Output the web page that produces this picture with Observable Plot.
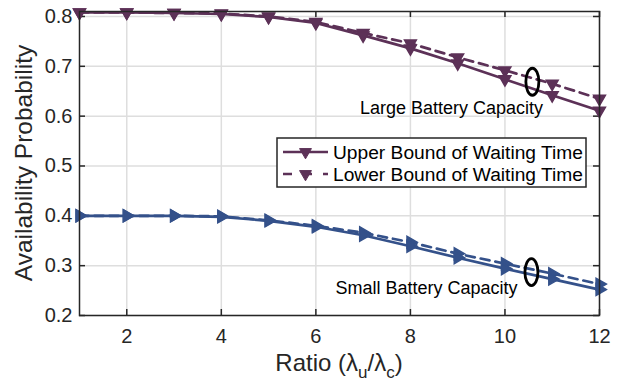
<!DOCTYPE html>
<html>
<head>
<meta charset="utf-8">
<script src="https://cdn.jsdelivr.net/npm/d3@7"></script>
<script src="https://cdn.jsdelivr.net/npm/@observablehq/plot@0.6"></script>
<style>
  html, body { margin: 0; padding: 0; background: #fff; }
  svg { font-family: "Liberation Sans", Arial, Helvetica, sans-serif; }
</style>
</head>
<body>
<div id="chart"></div>
<script>
// ---- data ----
const ratios = [1, 2, 3, 4, 5, 6, 7, 8, 9, 10, 11, 12];
const largeUpper = [0.808, 0.808, 0.807, 0.805, 0.799, 0.787, 0.762, 0.736, 0.706, 0.674, 0.642, 0.611];
const largeLower = [0.808, 0.808, 0.807, 0.806, 0.800, 0.789, 0.767, 0.746, 0.718, 0.692, 0.665, 0.635];
const smallUpper = [0.400, 0.400, 0.400, 0.398, 0.390, 0.378, 0.361, 0.339, 0.316, 0.294, 0.273, 0.252];
const smallLower = [0.400, 0.400, 0.400, 0.399, 0.391, 0.380, 0.366, 0.347, 0.324, 0.304, 0.284, 0.263];
const xTicks = [2, 4, 6, 8, 10, 12];
const yTicks = [0.2, 0.3, 0.4, 0.5, 0.6, 0.7, 0.8];
const seriesNames = ["Upper Bound of Waiting Time", "Lower Bound of Waiting Time"];
const annotationLabels = [
  {x: 8.87, y: 0.615, text: "Large Battery Capacity"},
  {x: 8.34, y: 0.254, text: "Small Battery Capacity"}
];
const ellipses = [
  {x: 10.58, y: 0.669},
  {x: 10.56, y: 0.287}
];

const purple = "#5c3157";
const blue = "#34518a";

function rows(vals, group, bound) {
  return ratios.map((r, i) => ({x: r, y: vals[i], group, bound}));
}
const dLU = rows(largeUpper, "large", "upper");
const dLL = rows(largeLower, "large", "lower");
const dSU = rows(smallUpper, "small", "upper");
const dSL = rows(smallLower, "small", "lower");

const ellipseSymbol = {
  draw(ctx, size) {
    const rx = 6.5, ry = 13.5, k = 0.5523;
    ctx.moveTo(rx, 0);
    ctx.bezierCurveTo(rx, ry * k, rx * k, ry, 0, ry);
    ctx.bezierCurveTo(-rx * k, ry, -rx, ry * k, -rx, 0);
    ctx.bezierCurveTo(-rx, -ry * k, -rx * k, -ry, 0, -ry);
    ctx.bezierCurveTo(rx * k, -ry, rx, -ry * k, rx, 0);
    ctx.closePath();
  }
};

const W = 621, H = 387;
const mL = 79, mR = 22, mT = 11, mB = 72;
const innerW = W - mL - mR, innerH = H - mT - mB;
const TL = 6; // tick length
const tickStyle = {stroke: "#262626", strokeWidth: 1.5};

const plot = Plot.plot({
  width: W,
  height: H,
  marginLeft: mL,
  marginRight: mR,
  marginTop: mT,
  marginBottom: mB,
  x: {domain: [1, 12]},
  y: {domain: [0.2, 0.81]},
  style: {fontFamily: "Liberation Sans, Arial, sans-serif", background: "white"},
  marks: [
    Plot.gridX(xTicks, {stroke: "#dedede", strokeOpacity: 1, strokeWidth: 1.5}),
    Plot.gridY(yTicks, {stroke: "#dedede", strokeOpacity: 1, strokeWidth: 1.5}),
    // tick labels
    Plot.axisX(xTicks, {anchor: "bottom", tickSize: 0, tickPadding: 13, fontSize: 20, fill: "#262626", label: null, lineAnchor: "top"}),
    Plot.axisY(yTicks, {anchor: "left", tickSize: 0, tickPadding: 7, fontSize: 20, fill: "#262626", label: null, tickFormat: d3.format(".1f")}),
    // inward ticks on all four sides
    Plot.tickX(xTicks, {x: d => d, insetTop: innerH - TL, ...tickStyle}),
    Plot.tickX(xTicks, {x: d => d, insetBottom: innerH - TL, ...tickStyle}),
    Plot.tickY(yTicks, {y: d => d, insetRight: innerW - TL, ...tickStyle}),
    Plot.tickY(yTicks, {y: d => d, insetLeft: innerW - TL, ...tickStyle}),
    // lines
    Plot.line(dLL, {x: "x", y: "y", stroke: purple, strokeWidth: 2.7, strokeDasharray: "9,6"}),
    Plot.line(dLU, {x: "x", y: "y", stroke: purple, strokeWidth: 2.7}),
    Plot.line(dSL, {x: "x", y: "y", stroke: blue, strokeWidth: 2.7, strokeDasharray: "9,6"}),
    Plot.line(dSU, {x: "x", y: "y", stroke: blue, strokeWidth: 2.7}),
    Plot.dot(dLL, {x: "x", y: "y", symbol: "triangle", rotate: 180, r: 4.4, fill: purple, stroke: purple}),
    Plot.dot(dLU, {x: "x", y: "y", symbol: "triangle", rotate: 180, r: 4.4, fill: purple, stroke: purple}),
    Plot.dot(dSL, {x: "x", y: "y", symbol: "triangle", rotate: 90, r: 4.4, fill: blue, stroke: blue}),
    Plot.dot(dSU, {x: "x", y: "y", symbol: "triangle", rotate: 90, r: 4.4, fill: blue, stroke: blue}),
    // annotations
    Plot.dot(ellipses, {x: "x", y: "y", symbol: ellipseSymbol, fill: "none", stroke: "black", strokeWidth: 2.8}),
    Plot.text(annotationLabels, {x: "x", y: "y", text: "text", fontSize: 18, fill: "black"}),
    Plot.frame({stroke: "#262626", strokeWidth: 1.5})
  ]
});

const svg = d3.select(plot);

// x label with subscripts
const xl = svg.append("text")
  .attr("x", mL + innerW / 2)
  .attr("y", 371)
  .attr("text-anchor", "middle")
  .attr("font-size", 24)
  .attr("fill", "#262626");
xl.append("tspan").text("Ratio (\u03BB");
xl.append("tspan").attr("font-size", 17).attr("dy", 7).text("u");
xl.append("tspan").attr("dy", -7).text("/\u03BB");
xl.append("tspan").attr("font-size", 17).attr("dy", 7).text("c");
xl.append("tspan").attr("dy", -7).text(")");

// y label
svg.append("text")
  .attr("transform", `translate(32,${mT + innerH / 2}) rotate(-90)`)
  .attr("text-anchor", "middle")
  .attr("font-size", 24.5)
  .attr("fill", "#262626")
  .text("Availability Probability");

// legend
const lg = svg.append("g");
lg.append("rect").attr("x", 277).attr("y", 138).attr("width", 309).attr("height", 49)
  .attr("fill", "white").attr("stroke", "#262626").attr("stroke-width", 1.5);
const legendRows = [
  {name: seriesNames[0], dash: null, y: 152},
  {name: seriesNames[1], dash: "9,11", y: 174}
];
const tri = d3.symbol(d3.symbolTriangle, Math.PI * 4.4 * 4.4);
legendRows.forEach(r => {
  const l = lg.append("line").attr("x1", 283).attr("x2", 328).attr("y1", r.y).attr("y2", r.y)
    .attr("stroke", purple).attr("stroke-width", 2.7);
  if (r.dash) l.attr("stroke-dasharray", r.dash);
  lg.append("path").attr("d", tri()).attr("transform", `translate(305.5,${r.y}) rotate(180)`)
    .attr("fill", purple).attr("stroke", purple);
  lg.append("text").attr("x", 333).attr("y", r.y).attr("dy", "0.35em")
    .attr("text-anchor", "start")
    .attr("font-size", 19.2).attr("fill", "black").text(r.name);
});

document.getElementById("chart").appendChild(plot);
</script>
</body>
</html>
